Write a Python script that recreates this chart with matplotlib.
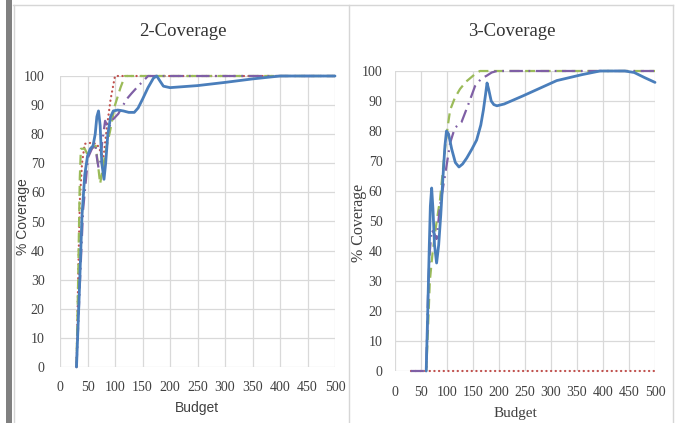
import matplotlib
matplotlib.use("Agg")
import matplotlib.pyplot as plt
from matplotlib.lines import Line2D
from matplotlib.patches import Rectangle

# ---------- Data: 2-Coverage ----------
c2_blue_x = [30, 35, 40, 45, 50, 55, 60, 64, 67, 70, 73, 76, 80, 83, 87, 92, 97, 105, 115, 125, 135, 142, 150, 160, 170, 176, 181, 188, 200, 250, 300, 350, 400, 500]
c2_blue_y = [0, 25, 52, 66, 72.5, 75, 76, 80, 86, 88, 83, 70, 64.5, 70, 80, 86, 88, 88.3, 88, 87.5, 87.5, 89, 92, 96, 99.3, 100, 98.5, 96.5, 96, 96.7, 97.8, 99, 100, 100]

c2_red_x = [30, 33, 36, 40, 45, 55, 67, 79, 85, 92, 100, 500]
c2_red_y = [0, 30, 57, 70, 76.7, 77, 76.7, 72, 82, 92, 100, 100]

c2_green_x = [30, 33, 36, 38, 45, 50, 57, 65, 70, 73, 78, 85, 91, 100, 110, 118, 130, 500]
c2_green_y = [0, 30, 65, 75, 75, 73, 75, 76, 68, 63, 68.5, 76, 81, 90, 96, 100, 100, 100]

c2_purple_x = [30, 36, 42, 51, 58, 64, 67, 70, 73, 76, 82, 88, 96, 106, 121, 130, 142, 155, 160, 500]
c2_purple_y = [0, 28, 54, 72, 75, 76.7, 72, 68.5, 70, 76, 84.6, 82, 85, 87, 92, 94, 96.5, 99, 100, 100]

# ---------- Data: 3-Coverage ----------
c3_blue_x = [60, 63, 66, 68, 70.5, 73, 76, 80, 84, 88, 92, 96, 99, 103, 109, 116, 123, 130, 138, 148, 157, 165, 170, 174, 177, 180, 185, 190, 196, 210, 246, 311, 360, 394, 420, 442, 460, 480, 500]
c3_blue_y = [0, 20, 42, 55, 61, 54, 42, 36, 42, 52, 64, 75, 80, 79, 74, 69.5, 68, 69, 71, 74, 77, 82, 87, 92, 96, 94, 90, 88.8, 88.4, 89, 91.7, 96.8, 98.8, 100, 100, 100, 99.5, 97.8, 96.2]

c3_red_x = [30, 500]
c3_red_y = [0, 0]

c3_green_x = [60, 63, 67, 72, 77, 82, 86.5, 91, 96, 101, 106, 115, 125, 137, 150, 158, 163.5, 500]
c3_green_y = [0, 12, 30, 39, 46, 52, 57, 65, 74, 81, 87, 91, 94, 96.5, 98.4, 99.5, 100, 100]

c3_purple_x = [30, 60, 64, 67, 70.5, 75, 80, 86.5, 96, 106, 115, 128, 140, 154, 166, 176, 186, 196, 500]
c3_purple_y = [0, 0, 29, 40, 47, 46, 44, 55, 65, 76, 81, 83, 88.4, 95, 97.5, 98.4, 99.5, 100, 100]

x_ticks = list(range(0, 501, 50))
y_ticks = list(range(0, 101, 10))

BLUE = "#4a7ebb"
RED = "#c0504d"
GREEN = "#9bbb59"
PURPLE = "#7f5fa5"
GRID = "#d9d9d9"
TICKC = "#404040"
SERIF = "Liberation Serif"
SANS = "Liberation Sans"

W, H = 677, 423
fig = plt.figure(figsize=(W / 100, H / 100), dpi=100)
fig.patch.set_facecolor("white")


def box(l, t, r, b):
    return [l / W, 1 - b / H, (r - l) / W, (b - t) / H]


def draw(ax, series, xpad, ypad):
    ax.set_xlim(0, 500)
    ax.set_ylim(0, 100)
    ax.set_xticks(x_ticks)
    ax.set_yticks(y_ticks)
    ax.grid(True, color=GRID, linewidth=0.9)
    ax.set_axisbelow(True)
    for s in ax.spines.values():
        s.set_visible(False)
    ax.tick_params(length=0, colors=TICKC, labelsize=10)
    ax.tick_params(axis="x", pad=xpad)
    ax.tick_params(axis="y", pad=ypad)
    for lab in ax.get_xticklabels() + ax.get_yticklabels():
        lab.set_fontfamily(SERIF)
    for x, y, color, lw, dashes in series:
        ln, = ax.plot(x, y, color=color, linewidth=lw, clip_on=False,
                      solid_joinstyle="round", solid_capstyle="round",
                      dash_capstyle="round" if dashes == "dot" else "butt")
        if dashes == "dot":
            ln.set_dashes((0.1, 2.0))
        elif dashes is not None:
            ln.set_dashes(dashes)


# ---------- Left chart ----------
ax1 = fig.add_axes(box(60, 76, 335, 367))
draw(ax1, [
    (c2_red_x, c2_red_y, RED, 1.6, "dot"),
    (c2_green_x, c2_green_y, GREEN, 1.6, (4.5, 2.5)),
    (c2_purple_x, c2_purple_y, PURPLE, 1.6, (6, 2.5, 0.8, 2.5)),
    (c2_blue_x, c2_blue_y, BLUE, 2.0, None),
], xpad=10, ypad=11)

# ---------- Right chart ----------
ax2 = fig.add_axes(box(395, 71, 655, 371))
draw(ax2, [
    (c3_red_x, c3_red_y, RED, 1.6, "dot"),
    (c3_green_x, c3_green_y, GREEN, 1.6, (4.5, 2.5)),
    (c3_purple_x, c3_purple_y, PURPLE, 1.6, (6, 2.5, 0.8, 2.5)),
    (c3_blue_x, c3_blue_y, BLUE, 2.0, None),
], xpad=11, ypad=9)

# ---------- Titles and axis labels ----------
fig.text(183 / W, 1 - 32 / H, "2-Coverage", ha="center", va="center",
         fontsize=13.5, family=SERIF, color="#333333")
fig.text(512 / W, 1 - 32 / H, "3-Coverage", ha="center", va="center",
         fontsize=13.5, family=SERIF, color="#333333")
fig.text(197 / W, 1 - 408 / H, "Budget", ha="center", va="center",
         fontsize=10, family=SANS, color=TICKC)
fig.text(515 / W, 1 - 413 / H, "Budget", ha="center", va="center",
         fontsize=11, family=SERIF, color=TICKC)
fig.text(23 / W, 1 - 217 / H, "% Coverage", ha="center", va="center",
         rotation=90, fontsize=10, family=SANS, color=TICKC)
fig.text(359 / W, 1 - 223 / H, "% Coverage", ha="center", va="center",
         rotation=90, fontsize=11.5, family=SERIF, color=TICKC)

# ---------- Panel frames ----------
fig.add_artist(Rectangle((6 / W, 0), 6 / W, 1, transform=fig.transFigure,
                         facecolor="#808080", edgecolor="none"))
frame = "#d6d6d6"
for x in (13.5, 349, 673):
    fig.add_artist(Line2D([x / W, x / W], [0, 1 - 5 / H], transform=fig.transFigure,
                          color=frame, linewidth=1))
fig.add_artist(Line2D([13 / W, 673 / W], [1 - 5 / H, 1 - 5 / H], transform=fig.transFigure,
                      color=frame, linewidth=1))

fig.savefig("out.png", dpi=100)
